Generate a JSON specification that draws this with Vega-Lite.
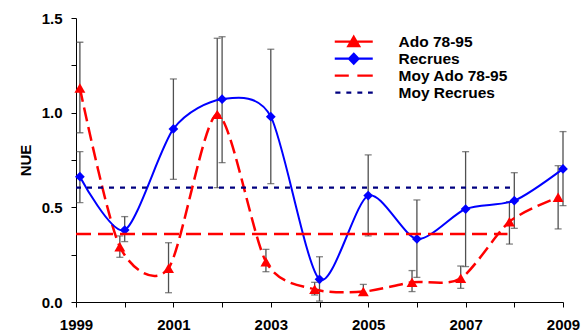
{
  "$schema": "https://vega.github.io/schema/vega-lite/v6.json",
  "width": 487,
  "height": 284,
  "autosize": {"type": "none"},
  "padding": {"left": 76, "top": 18, "right": 18, "bottom": 31},
  "config": {
    "view": {"stroke": null},
    "font": "Liberation Sans",
    "axis": {"labelFont": "Liberation Sans", "labelFontWeight": "bold", "labelFontSize": 15, "labelColor": "#000", "titleFont": "Liberation Sans", "titleFontWeight": "bold", "titleFontSize": 15, "titleColor": "#000", "domainColor": "#000", "tickColor": "#000", "grid": false, "tickSize": 5}
  },
  "datasets": {
    "pts": [
      {"serie": "Ado 78-95", "an": 1999.08, "nue": 1.13, "bas": 0.894, "haut": 1.372},
      {"serie": "Ado 78-95", "an": 1999.9, "nue": 0.292, "bas": 0.236, "haut": 0.349},
      {"serie": "Ado 78-95", "an": 2000.9, "nue": 0.178, "bas": 0.049, "haut": 0.313},
      {"serie": "Ado 78-95", "an": 2001.9, "nue": 0.991, "bas": 0.604, "haut": 1.393},
      {"serie": "Ado 78-95", "an": 2002.9, "nue": 0.213, "bas": 0.16, "haut": 0.278},
      {"serie": "Ado 78-95", "an": 2003.9, "nue": 0.067, "bas": 0.037, "haut": 0.104},
      {"serie": "Ado 78-95", "an": 2004.9, "nue": 0.055, "bas": 0.04, "haut": 0.093},
      {"serie": "Ado 78-95", "an": 2005.9, "nue": 0.104, "bas": 0.055, "haut": 0.166},
      {"serie": "Ado 78-95", "an": 2006.9, "nue": 0.125, "bas": 0.072, "haut": 0.19},
      {"serie": "Ado 78-95", "an": 2007.9, "nue": 0.424, "bas": 0.306, "haut": 0.53},
      {"serie": "Ado 78-95", "an": 2008.9, "nue": 0.553, "bas": 0.386, "haut": 0.72},
      {"serie": "Recrues", "an": 1999.08, "nue": 0.662, "bas": 0.525, "haut": 0.794},
      {"serie": "Recrues", "an": 2000, "nue": 0.38, "bas": 0.319, "haut": 0.451},
      {"serie": "Recrues", "an": 2001, "nue": 0.914, "bas": 0.648, "haut": 1.178},
      {"serie": "Recrues", "an": 2002, "nue": 1.071, "bas": 0.736, "haut": 1.401},
      {"serie": "Recrues", "an": 2003, "nue": 0.979, "bas": 0.625, "haut": 1.335},
      {"serie": "Recrues", "an": 2004, "nue": 0.12, "bas": 0.005, "haut": 0.239},
      {"serie": "Recrues", "an": 2005, "nue": 0.562, "bas": 0.349, "haut": 0.777},
      {"serie": "Recrues", "an": 2006, "nue": 0.333, "bas": 0.13, "haut": 0.539},
      {"serie": "Recrues", "an": 2007, "nue": 0.491, "bas": 0.187, "haut": 0.794},
      {"serie": "Recrues", "an": 2008, "nue": 0.535, "bas": 0.389, "haut": 0.683},
      {"serie": "Recrues", "an": 2009, "nue": 0.703, "bas": 0.509, "haut": 0.9}
    ],
    "moy": [
      {"serie": "Moy Ado 78-95", "debut": 1999, "fin": 2007.86, "nue": 0.359},
      {"serie": "Moy Recrues", "debut": 1999, "fin": 2007.96, "nue": 0.604}
    ]
  },
  "encoding": {
    "x": {"field": "an", "type": "quantitative", "scale": {"domain": [1999, 2009], "nice": false, "zero": false},
      "axis": {"title": null, "values": [1999, 2000, 2001, 2002, 2003, 2004, 2005, 2006, 2007, 2008, 2009], "format": "d", "labelExpr": "datum.value % 2 === 1 ? datum.label : ''", "labelPadding": 10, "labelFlush": false, "labelOverlap": false}},
    "y": {"field": "nue", "type": "quantitative", "scale": {"domain": [0, 1.5], "nice": false},
      "axis": {"title": "NUE", "values": [0, 0.25, 0.5, 0.75, 1, 1.25, 1.5], "labelExpr": "(datum.value * 2) % 1 === 0 ? format(datum.value, '.1f') : ''", "labelPadding": 9, "labelOverlap": false, "labelFlush": false, "titleX": -51, "titleY": 142, "titleBaseline": "middle"}}
  },
  "layer": [
    {
      "data": {"name": "pts"},
      "mark": {"type": "rule", "color": "#505050", "strokeWidth": 1.3},
      "encoding": {"y": {"field": "bas", "type": "quantitative"}, "y2": {"field": "haut"}}
    },
    {
      "data": {"name": "pts"},
      "mark": {"type": "tick", "orient": "horizontal", "color": "#505050", "size": 7, "thickness": 1.3},
      "encoding": {"y": {"field": "bas", "type": "quantitative"}}
    },
    {
      "data": {"name": "pts"},
      "mark": {"type": "tick", "orient": "horizontal", "color": "#505050", "size": 7, "thickness": 1.3},
      "encoding": {"y": {"field": "haut", "type": "quantitative"}}
    },
    {
      "data": {"name": "pts"},
      "transform": [{"filter": "datum.serie === 'Ado 78-95'"}],
      "mark": {"type": "line", "interpolate": "cardinal", "tension": 0.2, "strokeWidth": 2.5, "strokeDash": [14, 6]},
      "encoding": {"color": {"field": "serie", "type": "nominal"}}
    },
    {
      "data": {"name": "pts"},
      "transform": [{"filter": "datum.serie === 'Ado 78-95'"}],
      "mark": {"type": "point", "shape": "triangle-up", "filled": true, "size": 120, "opacity": 1},
      "encoding": {"color": {"field": "serie", "type": "nominal"}}
    },
    {
      "data": {"name": "pts"},
      "transform": [{"filter": "datum.serie === 'Recrues'"}],
      "mark": {"type": "line", "interpolate": "cardinal", "tension": 0.2, "strokeWidth": 2},
      "encoding": {"color": {"field": "serie", "type": "nominal"}}
    },
    {
      "data": {"name": "pts"},
      "transform": [{"filter": "datum.serie === 'Recrues'"}],
      "mark": {"type": "point", "shape": "diamond", "filled": true, "size": 95, "opacity": 1},
      "encoding": {"color": {"field": "serie", "type": "nominal"}}
    },
    {
      "data": {"name": "moy"},
      "transform": [{"filter": "datum.serie === 'Moy Ado 78-95'"}],
      "mark": {"type": "rule", "strokeWidth": 2.5, "strokeDash": [15, 7]},
      "encoding": {"x": {"field": "debut", "type": "quantitative"}, "x2": {"field": "fin"}, "color": {"field": "serie", "type": "nominal"}}
    },
    {
      "data": {"name": "moy"},
      "transform": [{"filter": "datum.serie === 'Moy Recrues'"}],
      "mark": {"type": "rule", "strokeWidth": 2.2, "strokeDash": [5, 6]},
      "encoding": {"x": {"field": "debut", "type": "quantitative"}, "x2": {"field": "fin"},
        "color": {"field": "serie", "type": "nominal",
          "scale": {"domain": ["Ado 78-95", "Recrues", "Moy Ado 78-95", "Moy Recrues"], "range": ["#ff0000", "#0000ff", "#ff0000", "#000080"]},
          "legend": {
            "title": null, "orient": "none", "legendX": 256, "legendY": 15.8,
            "labelFont": "Liberation Sans", "labelFontWeight": "bold", "labelFontSize": 15.5, "labelColor": "#000",
            "symbolSize": 100, "symbolOffset": 14, "labelOffset": 37, "rowPadding": 0, "clipHeight": 15.8,
            "encode": {"symbols": {"update": {
              "shape": {"signal": "datum.value === 'Ado 78-95' ? 'M-3.8,0H3.8M0,-0.99L1.1,0.91L-1.1,0.91Z' : datum.value === 'Recrues' ? 'M-3.8,0H3.8M0,-0.99L0.95,0L0,0.99L-0.95,0Z' : datum.value === 'Moy Ado 78-95' ? 'M-3.8,0H-0.99M0.72,0H3.8' : 'M-3.69,0H-2.66M-1.48,0H-0.49M0.72,0H1.71M2.85,0H3.8'"},
              "fill": {"signal": "datum.value === 'Ado 78-95' ? '#ff0000' : datum.value === 'Recrues' ? '#0000ff' : 'transparent'"},
              "stroke": {"signal": "datum.value === 'Moy Recrues' ? '#000080' : datum.value === 'Recrues' ? '#0000ff' : '#ff0000'"},
              "strokeWidth": {"value": 2.2},
              "opacity": {"value": 1}
            }}}
          }}}
    }
  ],
  "resolve": {"scale": {"color": "shared"}}
}
